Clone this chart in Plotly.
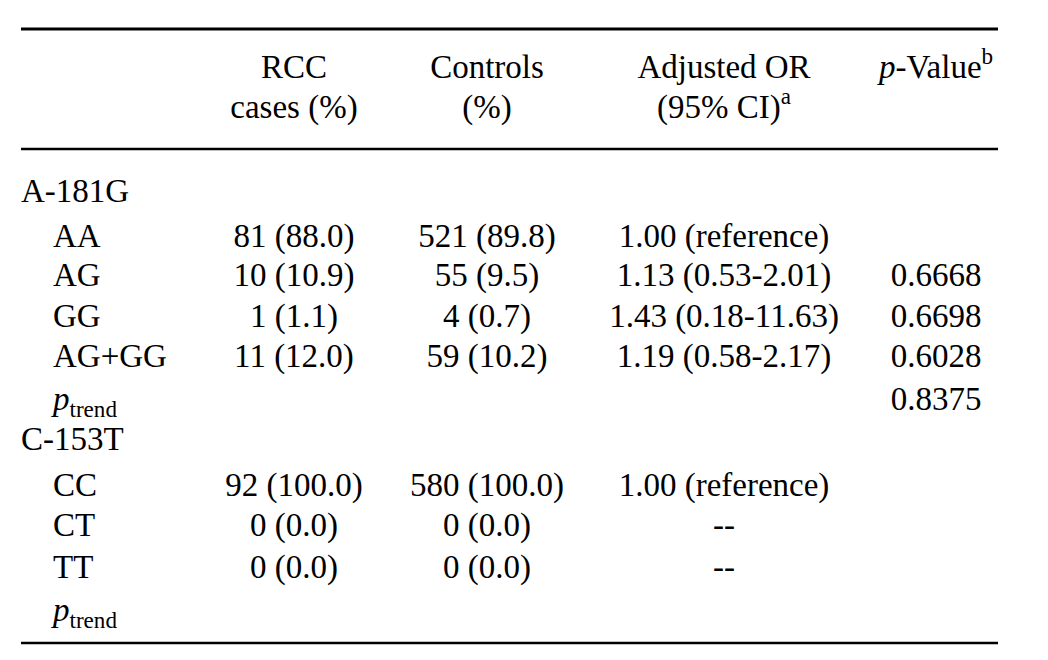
import plotly.graph_objects as go

# ---- table content ----
header_line1 = ["RCC", "Controls", "Adjusted OR", "<i>p</i>-Value<sup>b</sup>"]
header_line2 = ["cases (%)", "(%)", "(95% CI)<sup>a</sup>", ""]

row_labels = ["A-181G", "AA", "AG", "GG", "AG+GG", "<i>p</i><sub>trend</sub>",
              "C-153T", "CC", "CT", "TT", "<i>p</i><sub>trend</sub>"]
is_group = [True, False, False, False, False, False,
            True, False, False, False, False]
rcc_cases = ["", "81 (88.0)", "10 (10.9)", "1 (1.1)", "11 (12.0)", "",
             "", "92 (100.0)", "0 (0.0)", "0 (0.0)", ""]
controls = ["", "521 (89.8)", "55 (9.5)", "4 (0.7)", "59 (10.2)", "",
            "", "580 (100.0)", "0 (0.0)", "0 (0.0)", ""]
adjusted_or = ["", "1.00 (reference)", "1.13 (0.53-2.01)", "1.43 (0.18-11.63)",
               "1.19 (0.58-2.17)", "", "", "1.00 (reference)", "--", "--", ""]
p_values = ["", "", "0.6668", "0.6698", "0.6028", "0.8375",
            "", "", "", "", ""]

# ---- layout (window pixel positions) ----
W, H = 1048, 660
OFF = 8  # default page body margin
row_y = [194, 239, 278, 319, 359, 402, 442, 488, 528, 570, 613]
col_x = [294, 487, 724, 936]
label_x_group = 21
label_x_sub = 53
header_y = [70, 110]
rules = [(21, 998, 29, 3.2), (21, 998, 149, 2.6), (21, 998, 643, 2.6)]

FONT = dict(family="Liberation Serif, Times New Roman, serif", size=33, color="black")

fig = go.Figure()


def add_text(xs, ys, texts, pos):
    keep = [(x, y, t) for x, y, t in zip(xs, ys, texts) if t]
    fig.add_trace(go.Scatter(
        x=[k[0] for k in keep], y=[k[1] for k in keep], text=[k[2] for k in keep],
        mode="text", textposition=pos, textfont=FONT,
        hoverinfo="skip", showlegend=False))


# row labels
add_text([label_x_group if g else label_x_sub for g in is_group], row_y,
         row_labels, "middle right")

# data columns
for xc, col in zip(col_x, [rcc_cases, controls, adjusted_or, p_values]):
    add_text([xc] * len(col), row_y, col, "middle center")

# headers
for hy, hl in zip(header_y, [header_line1, header_line2]):
    add_text(col_x, [hy] * len(hl), hl, "middle center")

# horizontal rules
for x0, x1, y, w in rules:
    fig.add_shape(type="line", x0=x0, x1=x1, y0=y, y1=y,
                  xref="x", yref="y", line=dict(color="black", width=w))

fig.update_layout(
    width=W, height=H, margin=dict(l=0, r=0, t=0, b=0),
    paper_bgcolor="white", plot_bgcolor="white",
    xaxis=dict(range=[OFF, W + OFF], visible=False, fixedrange=True),
    yaxis=dict(range=[H + OFF, OFF], visible=False, fixedrange=True),
)

fig.write_html("out.html")
